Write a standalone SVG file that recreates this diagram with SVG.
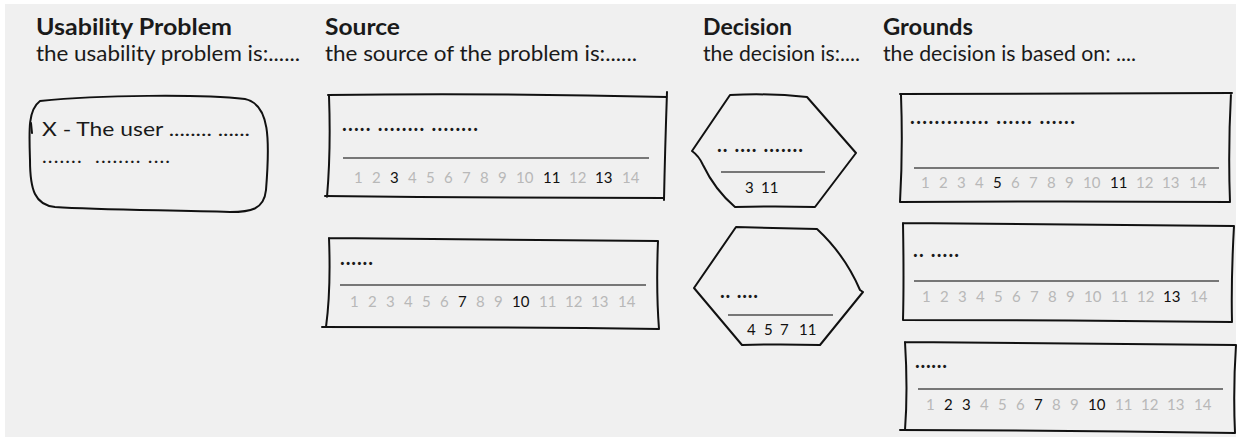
<svg xmlns="http://www.w3.org/2000/svg" width="1242" height="442" viewBox="0 0 1242 442">
<style>
.bg{fill:#f0f0f0}
.h{font-family:Lato,"Liberation Sans",sans-serif;font-weight:bold;font-size:22px;fill:#1a1a1a}
.s{font-family:Lato,"Liberation Sans",sans-serif;font-size:21px;fill:#1a1a1a}
.t{font-family:Lato,"Liberation Sans",sans-serif;font-size:20px;fill:#1a1a1a}
.d{font-family:Lato,"Liberation Sans",sans-serif;font-size:20px;fill:#1a1a1a;font-weight:bold}
.n{font-family:Lato,"Liberation Sans",sans-serif;font-size:15px;fill:#b8b8b8}
.n .on{fill:#111}
.k{font-family:Lato,"Liberation Sans",sans-serif;font-size:15px;fill:#111}
.o{fill:none;stroke:#111;stroke-width:2;stroke-linecap:round;stroke-linejoin:round}
.rule{stroke:#777;stroke-width:2}
</style>
<rect class="bg" x="5" y="4" width="1231" height="433"/>
<g id="headers">
<text class="h" x="36" y="35" textLength="196" lengthAdjust="spacingAndGlyphs">Usability Problem</text>
<text class="s" x="36" y="61" textLength="264" lengthAdjust="spacingAndGlyphs">the usability problem is:......</text>
<text class="h" x="325" y="35" textLength="75" lengthAdjust="spacingAndGlyphs">Source</text>
<text class="s" x="325" y="61" textLength="312" lengthAdjust="spacingAndGlyphs">the source of the problem is:......</text>
<text class="h" x="703" y="35" textLength="89" lengthAdjust="spacingAndGlyphs">Decision</text>
<text class="s" x="703" y="61" textLength="157" lengthAdjust="spacingAndGlyphs">the decision is:....</text>
<text class="h" x="883" y="35" textLength="90" lengthAdjust="spacingAndGlyphs">Grounds</text>
<text class="s" x="883" y="61" textLength="253" lengthAdjust="spacingAndGlyphs">the decision is based on: ....</text>
</g>
<g id="usability-problem">
<path class="o" d="M40 101 C100 95 200 94 245 99 C270 104 270 140 266 190 C264 210 250 212 230 212 C170 210 100 210 55 207 C35 205 30 190 30 160 C29 130 28 110 40 101 Z"/>
<path class="o" d="M31 123 L32 133"/>
<text class="t" x="42" y="136" textLength="208" lengthAdjust="spacingAndGlyphs">X - The user ........ ......</text>
<text class="t" x="42" y="163" xml:space="preserve" textLength="128" lengthAdjust="spacing">.......  ........ ....</text>
</g>
<g id="source-1">
<path class="o" d="M328 95 Q500 93 667 97 M667 92 Q665 150 664 200 M664 198 Q500 198 325 196 M329 96 Q331 150 327 197"/>
<text class="d" x="342" y="131" textLength="136" lengthAdjust="spacing">..... ........ ........</text>
<line class="rule" x1="343" y1="158" x2="649" y2="158"/>
<text class="n"><tspan x="354" y="183">1</tspan><tspan x="372" y="183">2</tspan><tspan class="on" x="390" y="183">3</tspan><tspan x="408" y="183">4</tspan><tspan x="426" y="183">5</tspan><tspan x="444" y="183">6</tspan><tspan x="462" y="183">7</tspan><tspan x="480" y="183">8</tspan><tspan x="498" y="183">9</tspan><tspan x="516" y="183">10</tspan><tspan class="on" x="543" y="183">11</tspan><tspan x="569" y="183">12</tspan><tspan class="on" x="595" y="183">13</tspan><tspan x="622" y="183">14</tspan></text>
</g>
<g id="source-2">
<path class="o" d="M329 238 Q500 239 658 241 M658 241 Q656 290 659 329 M659 329 Q500 327 322 327 M329 238 Q331 290 326 327"/>
<text class="d" x="340" y="265" textLength="33" lengthAdjust="spacing">......</text>
<line class="rule" x1="340" y1="285" x2="646" y2="285"/>
<text class="n"><tspan x="350" y="307">1</tspan><tspan x="368" y="307">2</tspan><tspan x="386" y="307">3</tspan><tspan x="404" y="307">4</tspan><tspan x="422" y="307">5</tspan><tspan x="440" y="307">6</tspan><tspan class="on" x="458" y="307">7</tspan><tspan x="476" y="307">8</tspan><tspan x="494" y="307">9</tspan><tspan class="on" x="512" y="307">10</tspan><tspan x="539" y="307">11</tspan><tspan x="565" y="307">12</tspan><tspan x="591" y="307">13</tspan><tspan x="618" y="307">14</tspan></text>
</g>
<g id="decision-1">
<path class="o" d="M730 95 Q770 93 807 97 L856 153 L815 207 Q775 206 735 207 Q715 190 703 165 Q699 156 692 151 L730 95 Z"/>
<text class="d" x="717" y="152" textLength="86" lengthAdjust="spacing">.. .... .......</text>
<line class="rule" x1="721" y1="172" x2="825" y2="172"/>
<text class="k"><tspan x="745" y="193">3</tspan><tspan x="761" y="193">11</tspan></text>
</g>
<g id="decision-2">
<path class="o" d="M736 227 Q776 228 817 229 Q845 255 860 290 L863 292 L820 345 Q780 344 742 345 L694 288 L736 227 Z"/>
<text class="d" x="720" y="298" textLength="38" lengthAdjust="spacing">.. ....</text>
<line class="rule" x1="728" y1="315" x2="833" y2="315"/>
<text class="k"><tspan x="747" y="335">4</tspan><tspan x="764" y="335">5</tspan><tspan x="780" y="335">7</tspan><tspan x="799" y="335">11</tspan></text>
</g>
<g id="grounds-1">
<path class="o" d="M900 94 Q1060 93 1232 93 M1231 93 Q1228 150 1230 202 M1230 202 Q1060 201 900 202 M901 95 Q903 150 900 202"/>
<text class="d" x="910" y="124" textLength="165" lengthAdjust="spacing">............. ...... ......</text>
<line class="rule" x1="914" y1="168" x2="1219" y2="168"/>
<text class="n"><tspan x="921" y="188">1</tspan><tspan x="939" y="188">2</tspan><tspan x="957" y="188">3</tspan><tspan x="975" y="188">4</tspan><tspan class="on" x="993" y="188">5</tspan><tspan x="1011" y="188">6</tspan><tspan x="1029" y="188">7</tspan><tspan x="1047" y="188">8</tspan><tspan x="1065" y="188">9</tspan><tspan x="1083" y="188">10</tspan><tspan class="on" x="1110" y="188">11</tspan><tspan x="1136" y="188">12</tspan><tspan x="1162" y="188">13</tspan><tspan x="1189" y="188">14</tspan></text>
</g>
<g id="grounds-2">
<path class="o" d="M903 223 Q1060 225 1234 226 M1234 226 Q1231 280 1232 322 M1232 322 Q1060 320 903 320 M903 223 Q904 280 903 320"/>
<text class="d" x="913" y="257" textLength="46" lengthAdjust="spacing">.. .....</text>
<line class="rule" x1="914" y1="281" x2="1219" y2="281"/>
<text class="n"><tspan x="922" y="302">1</tspan><tspan x="940" y="302">2</tspan><tspan x="958" y="302">3</tspan><tspan x="976" y="302">4</tspan><tspan x="994" y="302">5</tspan><tspan x="1012" y="302">6</tspan><tspan x="1030" y="302">7</tspan><tspan x="1048" y="302">8</tspan><tspan x="1066" y="302">9</tspan><tspan x="1084" y="302">10</tspan><tspan x="1111" y="302">11</tspan><tspan x="1137" y="302">12</tspan><tspan class="on" x="1163" y="302">13</tspan><tspan x="1190" y="302">14</tspan></text>
</g>
<g id="grounds-3">
<path class="o" d="M905 342 Q1060 343 1236 345 M1236 345 Q1233 390 1235 433 M1235 433 Q1060 430 900 430 M905 342 Q908 390 905 430"/>
<text class="d" x="915" y="368" textLength="32" lengthAdjust="spacing">......</text>
<line class="rule" x1="918" y1="389" x2="1223" y2="389"/>
<text class="n"><tspan x="926" y="410">1</tspan><tspan class="on" x="944" y="410">2</tspan><tspan class="on" x="962" y="410">3</tspan><tspan x="980" y="410">4</tspan><tspan x="998" y="410">5</tspan><tspan x="1016" y="410">6</tspan><tspan class="on" x="1034" y="410">7</tspan><tspan x="1052" y="410">8</tspan><tspan x="1070" y="410">9</tspan><tspan class="on" x="1088" y="410">10</tspan><tspan x="1115" y="410">11</tspan><tspan x="1141" y="410">12</tspan><tspan x="1167" y="410">13</tspan><tspan x="1194" y="410">14</tspan></text>
</g>
<g id="connectors"/>
</svg>
